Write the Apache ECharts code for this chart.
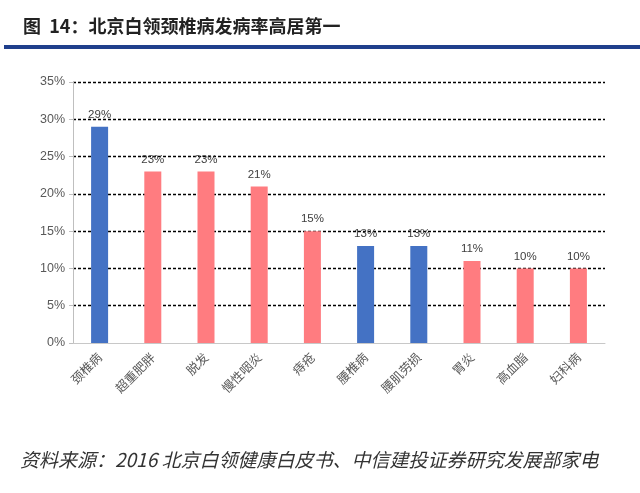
<!DOCTYPE html>
<html><head><meta charset="utf-8">
<script src="https://cdn.jsdelivr.net/npm/echarts@6/dist/echarts.min.js"></script>
<style>html,body{margin:0;padding:0;background:#fff}#c{width:640px;height:493px}</style>
</head><body><div id="c"></div>
<script>
const categories = ['颈椎病','超重肥胖','脱发','慢性咽炎','痔疮','腰椎病','腰肌劳损','胃炎','高血脂','妇科病'];
const values = [29,23,23,21,15,13,13,11,10,10];
const highlight = [true,false,false,false,false,true,true,false,false,false];
const yTicks = [0,5,10,15,20,25,30,35];
const BLUE = '#4472C4', PINK = '#FF7C80';
const chart = echarts.init(document.getElementById('c'));
chart.setOption({
  animation:false,
  backgroundColor:'#fff',
  title:{text:'图  14：北京白领颈椎病发病率高居第一',left:18,top:12,
    textStyle:{fontFamily:'Noto Sans CJK SC',fontSize:18,fontWeight:'bold',color:'#222'}},
  graphic:[
    {type:'rect',shape:{x:4,y:45,width:636,height:4},style:{fill:'#1F3F8C'}},
    {type:'text',left:20,top:450,style:{text:'资料来源：2016 北京白领健康白皮书、中信建投证券研究发展部家电',
      font:'italic 19px "Noto Sans CJK SC"',fill:'#333'}}
  ],
  grid:{left:73,right:35,top:82,bottom:150},
  xAxis:{type:'category',data:categories,
    axisLine:{lineStyle:{color:'#c8c8c8'}},axisTick:{show:false},
    axisLabel:{rotate:45,fontSize:12.5,color:'#595959',fontFamily:'Noto Sans CJK SC',margin:12}},
  yAxis:{type:'value',min:yTicks[0],max:yTicks[yTicks.length-1],interval:5,
    axisLine:{show:true,lineStyle:{color:'#bfbfbf'}},axisTick:{show:true,length:4,lineStyle:{color:'#bfbfbf'}},
    axisLabel:{formatter:'{value}%',fontSize:12.5,color:'#595959',fontFamily:'Liberation Sans'},
    splitLine:{showMinLine:false,lineStyle:{type:[3,2],color:'#000',width:1.3}}},
  series:[{type:'bar',barWidth:17,
    data:values.map((v,i)=>({value:v,itemStyle:{color:highlight[i]?BLUE:PINK}})),
    label:{show:true,position:'top',formatter:'{c}%',fontSize:11.5,color:'#404040',fontFamily:'Liberation Sans',distance:6}}]
});
</script></body></html>
